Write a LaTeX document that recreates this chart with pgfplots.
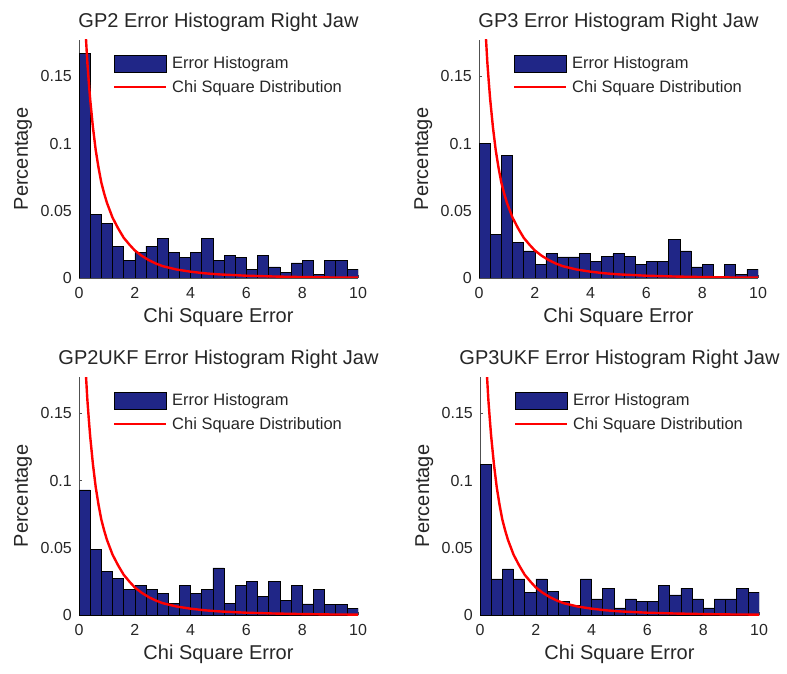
\documentclass[border=0pt]{standalone}
\usepackage{fontspec}
\setmainfont{Liberation Sans}
\usepackage{pgfplots}
\usepackage{pgfplotstable}
\pgfplotsset{compat=1.18}
\definecolor{histblue}{RGB}{32,38,135}
\definecolor{axgray}{RGB}{80,80,80}

\pgfplotstableread{
x y
0.21 0.200
0.25 0.178
0.30 0.160
0.35 0.146
0.40 0.133
0.50 0.112
0.60 0.095
0.70 0.082
0.80 0.071
0.90 0.063
1.00 0.056
1.20 0.045
1.40 0.037
1.60 0.030
1.80 0.025
2.00 0.0205
2.25 0.0165
2.50 0.0133
2.75 0.0108
3.00 0.0088
3.50 0.0063
4.00 0.0047
4.50 0.0035
5.00 0.0027
6.00 0.0017
7.00 0.0011
8.00 0.0007
9.00 0.0004
10.00 0.0003
}\chitab

\pgfplotsset{
  every axis title shift=0pt,
  panel/.style={
    scale only axis, width=279pt, height=238pt, anchor=south west,
    xmin=0, xmax=10, ymin=0, ymax=0.177,
    axis x line*=bottom, axis y line*=left,
    axis line style={axgray, line width=0.7pt},
    xtick={0,2,4,6,8,10},
    ytick={0,0.05,0.1,0.15}, yticklabels={0,0.05,0.1,0.15},
    tick align=inside, major tick length=3pt, tick style={axgray},
    /pgf/number format/assume math mode=true,
    ticklabel style={font=\fontsize{16}{18}\selectfont, text=black!85},
    xticklabel style={anchor=base, yshift=-20pt, inner sep=0pt},
    yticklabel style={anchor=east, xshift=-7pt, inner sep=0pt},
    title style={at={(axis description cs:0.5,1.0546)}, anchor=base, inner sep=0pt,
      font=\fontsize{20}{24}\selectfont, text=black!85},
    xlabel style={at={(axis description cs:0.5,-0.189)}, anchor=base, inner sep=0pt,
      font=\fontsize{20}{24}\selectfont, text=black!85},
    every axis y label/.style={at={(axis description cs:-0.1828,0.5)}, rotate=90, anchor=base,
      inner sep=0pt, font=\fontsize{20}{24}\selectfont, text=black!85},
    xlabel={Chi Square Error}, ylabel={Percentage},
    legend cell align=left,
    legend style={at={(axis description cs:0.122,0.939)}, anchor=north west,
      draw=none, fill=none, inner sep=0pt, outer sep=0pt, row sep=8.5pt,
      font=\fontsize{16.5}{18}\selectfont, text=black!85,
      nodes={inner ysep=0pt, inner xsep=5pt}},
  },
  histbar/.style={ybar interval, fill=histblue, draw=black, line width=0.6pt,
    legend image code/.code={\draw[fill=histblue, draw=black, line width=0.6pt] (0pt,-8.5pt) rectangle (52pt,8.5pt);}},
  chiline/.style={red, line width=2.4pt,
    legend image code/.code={\draw[red, line width=2.2pt] (0pt,0pt) -- (52pt,0pt);}},
}

\begin{document}
\begin{tikzpicture}
\useasboundingbox (0,0) rectangle (787pt,673pt);

% Panel 1
\begin{axis}[panel, at={(79pt,395pt)}, title={GP2 Error Histogram Right Jaw}]
\addplot[histbar] coordinates {
(0,0.167) (0.4,0.0475) (0.8,0.0407) (1.2,0.0237) (1.6,0.0132) (2.0,0.019) (2.4,0.0237)
(2.8,0.0297) (3.2,0.019) (3.6,0.0155) (4.0,0.019) (4.4,0.0297) (4.8,0.0132) (5.2,0.017)
(5.6,0.0155) (6.0,0.0065) (6.4,0.017) (6.8,0.0082) (7.2,0.0042) (7.6,0.0112) (8.0,0.0132)
(8.4,0.0025) (8.8,0.0132) (9.2,0.0132) (9.6,0.0065) (10,0.0065)};
\addlegendentry{Error Histogram}
\addplot[chiline] table[x=x,y=y] {\chitab};
\addlegendentry{Chi Square Distribution}
\end{axis}

% Panel 2
\begin{axis}[panel, at={(479pt,395pt)}, title={GP3 Error Histogram Right Jaw}]
\addplot[histbar] coordinates {
(0,0.100) (0.4,0.0327) (0.8,0.091) (1.2,0.0262) (1.6,0.0202) (2.0,0.0102) (2.4,0.018)
(2.8,0.0157) (3.2,0.0157) (3.6,0.018) (4.0,0.0125) (4.4,0.016) (4.8,0.018) (5.2,0.016)
(5.6,0.0102) (6.0,0.0125) (6.4,0.0125) (6.8,0.0287) (7.2,0.0202) (7.6,0.0082) (8.0,0.0102)
(8.4,0.0) (8.8,0.0102) (9.2,0.0025) (9.6,0.0065) (10,0.0065)};
\addlegendentry{Error Histogram}
\addplot[chiline] table[x=x,y=y] {\chitab};
\addlegendentry{Chi Square Distribution}
\end{axis}

% Panel 3
\begin{axis}[panel, at={(79pt,58pt)}, title={GP2UKF Error Histogram Right Jaw}]
\addplot[histbar] coordinates {
(0,0.093) (0.4,0.049) (0.8,0.0325) (1.2,0.0275) (1.6,0.0188) (2.0,0.022) (2.4,0.0188)
(2.8,0.016) (3.2,0.0087) (3.6,0.022) (4.0,0.016) (4.4,0.0188) (4.8,0.035) (5.2,0.0085)
(5.6,0.022) (6.0,0.0247) (6.4,0.0137) (6.8,0.0247) (7.2,0.011) (7.6,0.022) (8.0,0.0082)
(8.4,0.0188) (8.8,0.0078) (9.2,0.0078) (9.6,0.005) (10,0.005)};
\addlegendentry{Error Histogram}
\addplot[chiline] table[x=x,y=y] {\chitab};
\addlegendentry{Chi Square Distribution}
\end{axis}

% Panel 4
\begin{axis}[panel, at={(480pt,58pt)}, title={GP3UKF Error Histogram Right Jaw}]
\addplot[histbar] coordinates {
(0,0.112) (0.4,0.0268) (0.8,0.0343) (1.2,0.0268) (1.6,0.017) (2.0,0.0268) (2.4,0.0173)
(2.8,0.010) (3.2,0.0073) (3.6,0.0268) (4.0,0.012) (4.4,0.020) (4.8,0.0053) (5.2,0.012)
(5.6,0.010) (6.0,0.010) (6.4,0.0218) (6.8,0.015) (7.2,0.020) (7.6,0.012) (8.0,0.0053)
(8.4,0.012) (8.8,0.012) (9.2,0.020) (9.6,0.017) (10,0.017)};
\addlegendentry{Error Histogram}
\addplot[chiline] table[x=x,y=y] {\chitab};
\addlegendentry{Chi Square Distribution}
\end{axis}
\end{tikzpicture}
\end{document}
